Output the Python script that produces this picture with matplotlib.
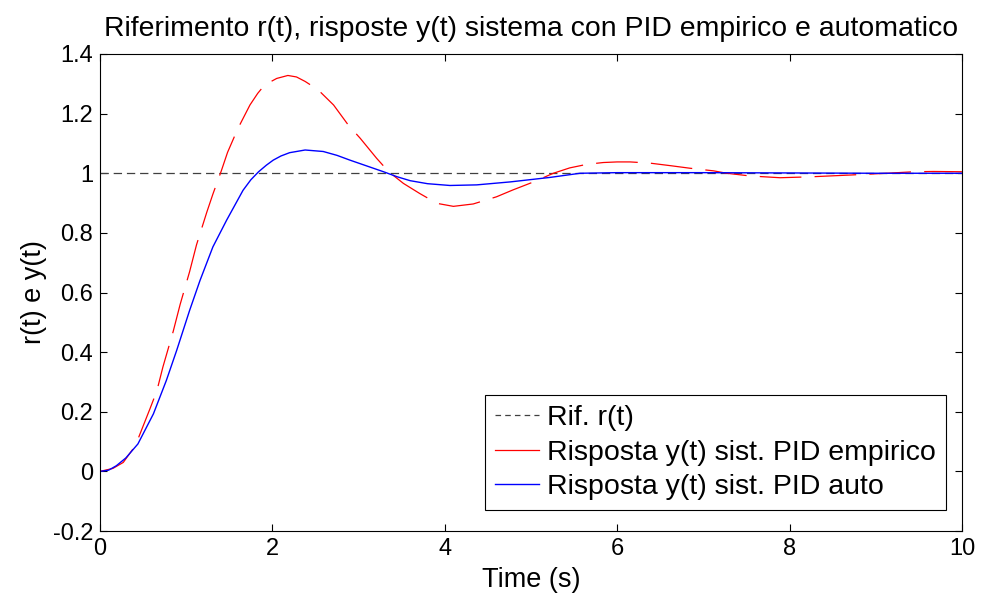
import numpy as np
import matplotlib
matplotlib.use("Agg")
import matplotlib.pyplot as plt
from matplotlib.lines import Line2D

plt.rcParams['font.family'] = ['Liberation Sans', 'DejaVu Sans']
plt.rcParams['lines.scale_dashes'] = False

# Reference step
t_ref = [0, 10]
r_ref = [1, 1]

t_emp = [0, 0.15, 0.27, 0.41, 0.48, 0.58, 0.66, 0.73, 0.85, 0.93, 1.04, 1.12,
         1.24, 1.31, 1.41, 1.48, 1.6, 1.74, 1.83, 1.91, 2.05, 2.18, 2.28, 2.38,
         2.53, 2.71, 2.88, 3.02, 3.21, 3.35, 3.52, 3.71, 3.91, 4.10, 4.33, 4.60,
         4.79, 5.03, 5.26, 5.45, 5.65, 5.84, 6.0, 6.15, 6.38, 6.63, 6.84, 7.12,
         7.27, 7.54, 7.89, 8.24, 8.70, 9.13, 9.44, 9.67, 10]
y_emp = [0, 0.01, 0.03, 0.086, 0.137, 0.21, 0.27, 0.35, 0.47, 0.56, 0.67, 0.76,
         0.87, 0.93, 1.01, 1.07, 1.15, 1.229, 1.268, 1.296, 1.318, 1.328, 1.323, 1.308,
         1.28, 1.229, 1.162, 1.117, 1.05, 1.005, 0.966, 0.932, 0.899, 0.889, 0.897, 0.921,
         0.944, 0.971, 1.0, 1.018, 1.03, 1.036, 1.038, 1.038, 1.034, 1.025, 1.017, 1.008,
         1.0, 0.991, 0.985, 0.988, 0.994, 1.0, 1.005, 1.006, 1.005]

# Response with automatic PID
t_auto = [0, 0.1, 0.19, 0.3, 0.44, 0.62, 0.77, 0.89, 1.04, 1.16, 1.31, 1.47,
          1.66, 1.75, 1.84, 1.93, 2.01, 2.1, 2.2, 2.38, 2.59, 2.75, 2.90, 3.1,
          3.29, 3.45, 3.60, 3.80, 4.06, 4.37, 4.76, 5.22, 5.57, 6.0, 7.0, 8.0,
          9.0, 10]
y_auto = [0, 0.004, 0.019, 0.045, 0.092, 0.193, 0.305, 0.406, 0.54, 0.64, 0.753, 0.843,
          0.943, 0.978, 1.005, 1.027, 1.044, 1.058, 1.069, 1.078, 1.073, 1.06, 1.044, 1.024,
          1.005, 0.988, 0.975, 0.965, 0.959, 0.961, 0.971, 0.986, 1.0, 1.002, 1.002, 1.001,
          1.0, 1.0]

labels = ['Rif. r(t)', 'Risposta y(t) sist. PID empirico', 'Risposta y(t) sist. PID auto']

fig = plt.figure(figsize=(9.82, 5.98), dpi=100)
ax = fig.add_axes([0.1018, 0.112, 0.8778, 0.7977])

ax.plot(t_ref, r_ref, color='#404040', lw=0.9, dashes=(6, 3.5))
ax.plot(t_emp, y_emp, color='red', lw=0.9, dashes=(30, 9.5))
ax.plot(t_auto, y_auto, color='blue', lw=1.0)

ax.set_xlim(0, 10)
ax.set_ylim(-0.2, 1.4)
ax.set_xticks(np.arange(0, 11, 2))
ax.set_yticks(np.arange(-0.2, 1.41, 0.2))
ax.set_yticklabels(['-0.2', '0', '0.2', '0.4', '0.6', '0.8', '1', '1.2', '1.4'])
ax.tick_params(direction='in', top=True, right=True, length=5, width=0.8,
               labelsize=17, pad=5)
for s in ax.spines.values():
    s.set_linewidth(0.8)

ax.set_title('Riferimento r(t), risposte y(t) sistema con PID empirico e automatico',
             fontsize=20.4, pad=13)
ax.set_xlabel('Time (s)', fontsize=19.5, labelpad=5)
ax.set_ylabel('r(t) e y(t)', fontsize=19.5, labelpad=4)

handles = [Line2D([], [], color='#404040', lw=0.9, dashes=(4, 3)),
           Line2D([], [], color='red', lw=0.9),
           Line2D([], [], color='blue', lw=1.0)]
leg = ax.legend(handles, labels, loc='lower right', bbox_to_anchor=(0.9814, 0.044),
                fontsize=20.5, fancybox=False, framealpha=1, edgecolor='black',
                borderpad=0.35, labelspacing=0.3, handlelength=1.55,
                handletextpad=0.27, borderaxespad=0)
leg.get_frame().set_linewidth(0.8)

fig.savefig('out.png', dpi=100)
